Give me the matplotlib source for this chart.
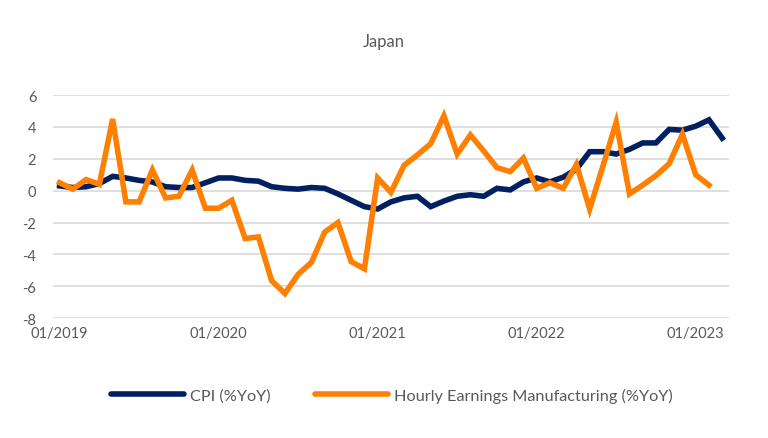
import numpy as np
import matplotlib
matplotlib.use('Agg')
import matplotlib.pyplot as plt

plt.rcParams['font.family'] = ['Lato', 'DejaVu Sans']
plt.rcParams['axes.unicode_minus'] = False

# monthly values, 01/2019 .. 03/2023
cpi = [0.3, 0.2, 0.25, 0.45, 0.9, 0.8, 0.65, 0.55, 0.25, 0.2,
       0.2, 0.5, 0.8, 0.8, 0.65, 0.6, 0.25, 0.15, 0.1, 0.2,
       0.15, -0.2, -0.6, -1.0, -1.15, -0.7, -0.45, -0.35, -1.0, -0.65,
       -0.35, -0.25, -0.35, 0.15, 0.05, 0.55, 0.8, 0.55, 0.85, 1.35,
       2.45, 2.45, 2.3, 2.6, 3.0, 3.0, 3.85, 3.8, 4.05, 4.45,
       3.3]
earnings = [0.5, 0.1, 0.7, 0.4, 4.5, -0.7, -0.7, 1.3, -0.45, -0.35,
            1.3, -1.1, -1.1, -0.6, -3.0, -2.9, -5.65, -6.45, -5.25, -4.5,
            -2.6, -2.0, -4.45, -4.9, 0.8, -0.1, 1.6, 2.25, 2.95, 4.7,
            2.3, 3.5, 2.5, 1.45, 1.2, 2.05, 0.15, 0.5, 0.15, 1.65,
            -1.15, 1.55, 4.3, -0.2, 0.35, 0.95, 1.7, 3.55, 1.0, 0.35]
tick_pos = [0, 12, 24, 36, 48]
tick_labels = ['01/2019', '01/2020', '01/2021', '01/2022', '01/2023']

navy = '#002060'
orange = '#FF7F00'
grey = '#595959'

fig = plt.figure(figsize=(7.68, 4.39), dpi=100)
ax = fig.add_axes([0.069, 0.273, 0.88, 0.508])

ax.plot(np.arange(len(cpi)), cpi, color=navy, lw=4, solid_joinstyle='miter',
        label='CPI (%YoY)', zorder=3)
ax.plot(np.arange(len(earnings)), earnings, color=orange, lw=4,
        solid_joinstyle='miter', label='Hourly Earnings Manufacturing (%YoY)',
        zorder=4)

ax.set_xlim(-0.5, 50.5)
ax.set_ylim(-8, 6)
ax.set_yticks(range(-8, 7, 2))
ax.set_xticks(tick_pos)
ax.set_xticklabels(tick_labels)
ax.tick_params(length=0, labelsize=10.5, colors=grey, pad=6)
ax.tick_params(axis='y', pad=12)
ax.grid(axis='y', color='#D9D9D9', lw=1.2)
ax.set_axisbelow(True)
for s in ax.spines.values():
    s.set_visible(False)

fig.text(0.5, 0.905, 'Japan', ha='center', va='center', fontsize=12, color=grey)

leg = fig.legend(loc='center', bbox_to_anchor=(0.51, 0.098), ncol=2, frameon=False,
                 fontsize=11.7, handlelength=4.5, columnspacing=2.7, handletextpad=0.37,
                 labelcolor=grey)
for h in leg.get_lines():
    h.set_linewidth(4)
    h.set_solid_capstyle('round')

fig.savefig('out.png', dpi=100)
